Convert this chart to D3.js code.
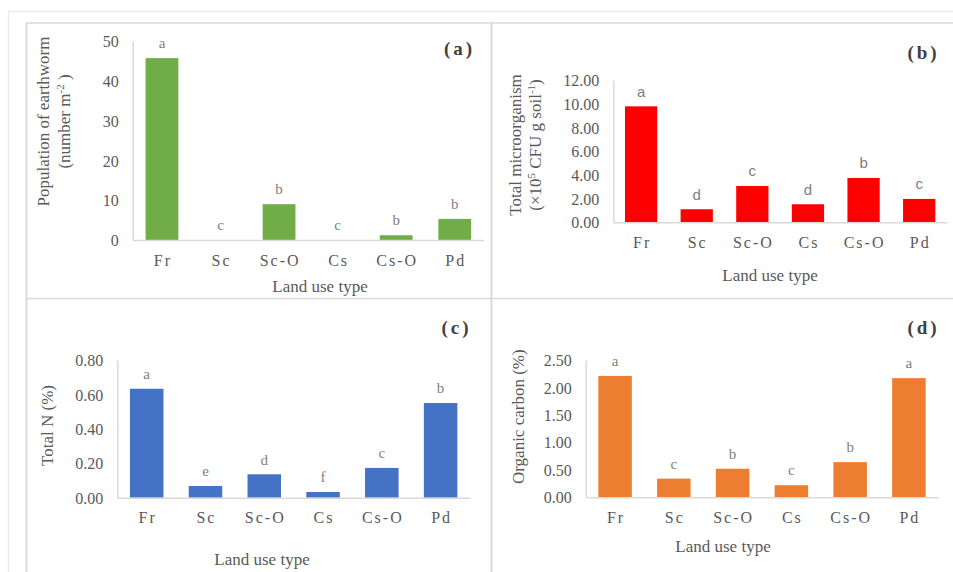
<!DOCTYPE html>
<html>
<head>
<meta charset="utf-8">
<script src="https://cdn.jsdelivr.net/npm/d3@7"></script>
<style>
  html, body { margin: 0; padding: 0; background: #ffffff; }
  svg { display: block; }
</style>
</head>
<body>
<svg id="chart" width="953" height="572"></svg>
<script>
// Land use types shared by all four panels
const categories = ["Fr", "Sc", "Sc-O", "Cs", "Cs-O", "Pd"];

// (a) earthworm population, number m^-2
const earthworm = [45.7, 0, 9.0, 0, 1.2, 5.3];
const earthwormLetters = ["a", "c", "b", "c", "b", "b"];
const earthwormTicks = [0, 10, 20, 30, 40, 50];

// (b) total microorganism, x10^5 CFU g soil^-1
const microorganism = [9.78, 1.10, 3.06, 1.52, 3.74, 1.97];
const microorganismLetters = ["a", "d", "c", "d", "b", "c"];
const microorganismTicks = [0, 2, 4, 6, 8, 10, 12];

// (c) total N, %
const totalN = [0.633, 0.068, 0.136, 0.033, 0.173, 0.55];
const totalNLetters = ["a", "e", "d", "f", "c", "b"];
const totalNTicks = [0, 0.2, 0.4, 0.6, 0.8];

// (d) organic carbon, %
const organicCarbon = [2.21, 0.34, 0.52, 0.22, 0.64, 2.17];
const organicCarbonLetters = ["a", "c", "b", "c", "b", "a"];
const organicCarbonTicks = [0, 0.5, 1.0, 1.5, 2.0, 2.5];

const SERIF = "'Liberation Serif', 'Times New Roman', serif";
const SANS = "'Liberation Sans', Arial, sans-serif";

const svg = d3.select("#chart");

// page and panel frames
const frames = svg.append("g");
frames.append("line").attr("x1", 8).attr("x2", 953).attr("y1", 11.5).attr("y2", 11.5)
  .attr("stroke", "#ececec").attr("stroke-width", 1.5);
frames.append("line").attr("x1", 8.5).attr("x2", 8.5).attr("y1", 11).attr("y2", 572)
  .attr("stroke", "#ececec").attr("stroke-width", 1.5);
frames.append("line").attr("x1", 26).attr("x2", 953).attr("y1", 23).attr("y2", 23)
  .attr("stroke", "#d9d9d9").attr("stroke-width", 1.5);
frames.append("line").attr("x1", 26).attr("x2", 953).attr("y1", 298.5).attr("y2", 298.5)
  .attr("stroke", "#d9d9d9").attr("stroke-width", 1.5);
frames.append("line").attr("x1", 26.5).attr("x2", 26.5).attr("y1", 23).attr("y2", 572)
  .attr("stroke", "#d9d9d9").attr("stroke-width", 2);
frames.append("line").attr("x1", 491.5).attr("x2", 491.5).attr("y1", 23).attr("y2", 572)
  .attr("stroke", "#d9d9d9").attr("stroke-width", 2);

const panels = [
  {
    values: earthworm, letters: earthwormLetters, ticks: earthwormTicks, fmt: d3.format("d"),
    color: "#70ad47", tag: "(a)", tagX: 458, tagY: 48,
    x0: 132.7, x1: 484, top: 41, base: 240, barFrac: 0.56,
    titleLines: [
      [{ t: "Population of earthworm" }],
      [{ t: "(number m" }, { t: "-2", sup: true }, { t: " )" }]
    ],
    titleX: 43.5, titleY: 121.5, lineGap: 20.5,
    xTitleX: 320, xTitleY: 286, letterFont: SERIF
  },
  {
    values: microorganism, letters: microorganismLetters, ticks: microorganismTicks, fmt: d3.format(".2f"),
    color: "#ff0000", tag: "(b)", tagX: 922, tagY: 52,
    x0: 613.3, x1: 947, top: 80, base: 222.3, barFrac: 0.58,
    titleLines: [
      [{ t: "Total microorganism" }],
      [{ t: "(×10" }, { t: "5", sup: true }, { t: " CFU g soil" }, { t: "-1", sup: true }, { t: ")" }]
    ],
    titleX: 515, titleY: 145, lineGap: 20,
    xTitleX: 770, xTitleY: 275, letterFont: SANS
  },
  {
    values: totalN, letters: totalNLetters, ticks: totalNTicks, fmt: d3.format(".2f"),
    color: "#4472c4", tag: "(c)", tagX: 455, tagY: 327,
    x0: 117.3, x1: 470, top: 360, base: 497.7, barFrac: 0.57,
    titleLines: [[{ t: "Total N (%)" }]],
    titleX: 46.7, titleY: 425.5, lineGap: 0,
    xTitleX: 262, xTitleY: 559, letterFont: SERIF
  },
  {
    values: organicCarbon, letters: organicCarbonLetters, ticks: organicCarbonTicks, fmt: d3.format(".2f"),
    color: "#ed7d31", tag: "(d)", tagX: 922, tagY: 327,
    x0: 585.7, x1: 938.3, top: 360, base: 497.3, barFrac: 0.57,
    titleLines: [[{ t: "Organic carbon (%)" }]],
    titleX: 518.3, titleY: 416.7, lineGap: 0,
    xTitleX: 723, xTitleY: 545.7, letterFont: SERIF
  }
];

panels.forEach(p => {
  const g = svg.append("g");
  const pad = 1 - p.barFrac;
  const x = d3.scaleBand().domain(categories).range([p.x0, p.x1])
    .paddingInner(pad).paddingOuter(pad / 2);
  const yMax = p.ticks[p.ticks.length - 1];
  const y = d3.scaleLinear().domain([0, yMax]).range([p.base, p.top]);

  // bars
  g.selectAll("rect.bar").data(p.values).join("rect")
    .attr("class", "bar")
    .attr("x", (d, i) => x(categories[i]))
    .attr("width", x.bandwidth())
    .attr("y", d => y(d))
    .attr("height", d => y(0) - y(d))
    .attr("fill", p.color);

  // y axis
  const yAxis = g.append("g").attr("transform", `translate(${p.x0},0)`)
    .call(d3.axisLeft(y).tickValues(p.ticks).tickFormat(p.fmt).tickSize(0).tickPadding(14));
  yAxis.select(".domain").attr("stroke", "#d9d9d9").attr("stroke-width", 1.5);
  yAxis.selectAll("text")
    .style("font-family", SERIF).style("font-size", "16px")
    .attr("fill", "#595959").attr("dy", "0.35em");

  // x axis
  const xAxis = g.append("g").attr("transform", `translate(0,${p.base})`)
    .call(d3.axisBottom(x).tickSize(0).tickSizeOuter(0));
  xAxis.select(".domain").attr("stroke", "#d9d9d9").attr("stroke-width", 1.5);
  xAxis.selectAll("text")
    .style("font-family", SERIF).style("font-size", "16px")
    .attr("fill", "#595959")
    .attr("y", 20).attr("dy", "0.35em").attr("dx", 1)
    .style("letter-spacing", "2px");

  // significance letters
  g.selectAll("text.sig").data(p.values).join("text")
    .attr("class", "sig")
    .attr("x", (d, i) => x(categories[i]) + x.bandwidth() / 2)
    .attr("y", d => y(d) - 15)
    .attr("dy", "0.35em")
    .attr("text-anchor", "middle")
    .style("font-family", p.letterFont).style("font-size", "15px")
    .attr("fill", "#7f7f7f")
    .text((d, i) => p.letters[i]);

  // panel tag
  g.append("text")
    .attr("x", p.tagX + 1.5).attr("y", p.tagY).attr("dy", "0.35em")
    .attr("text-anchor", "middle")
    .style("font-family", SERIF).style("font-size", "19px").style("font-weight", "bold")
    .attr("fill", "#404040")
    .style("letter-spacing", "3px")
    .text(p.tag);

  // y axis title
  p.titleLines.forEach((line, li) => {
    const t = g.append("text")
      .attr("transform", `translate(${p.titleX + li * p.lineGap},${p.titleY}) rotate(-90)`)
      .attr("text-anchor", "middle").attr("dy", "0.35em")
      .style("font-family", SERIF).style("font-size", "17px")
      .attr("fill", "#595959");
    line.forEach(seg => {
      const ts = t.append("tspan").text(seg.t);
      if (seg.sup) ts.style("font-size", "11px").attr("baseline-shift", "super");
    });
  });

  // x axis title
  g.append("text")
    .attr("x", p.xTitleX).attr("y", p.xTitleY).attr("dy", "0.35em")
    .attr("text-anchor", "middle")
    .style("font-family", SERIF).style("font-size", "17px")
    .attr("fill", "#595959")
    .text("Land use type");
});
</script>
</body>
</html>
